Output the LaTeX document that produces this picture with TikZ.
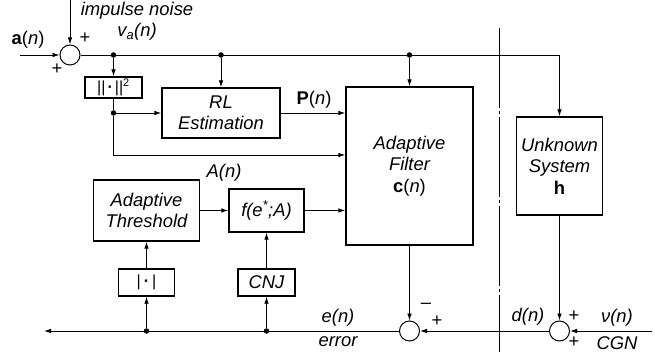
\documentclass[tikz,border=0pt]{standalone}
\usepackage{fontspec}
\setmainfont{Liberation Sans}
\usetikzlibrary{arrows.meta,positioning}

\begin{document}
\begin{tikzpicture}[
  x=1pt, y=-1pt,
  >={Latex[length=7pt,width=4.6pt]},
  font=\fontsize{18.4}{22}\selectfont,
  blk/.style={rectangle, draw, line width=1.4pt, inner sep=0pt, align=center, font=\fontsize{18.4}{21.5}\selectfont\itshape},
  sumnode/.style={circle, draw, line width=1pt, minimum size=20pt, inner sep=0pt},
  dot/.style={circle, fill, minimum size=5.5pt, inner sep=0pt},
  wire/.style={line width=0.9pt},
  lbl/.style={inner sep=0pt, font=\fontsize{18.4}{22}\selectfont\itshape},
]
  \useasboundingbox (0,0) rectangle (655,352);
  % summing junctions
  \node[sumnode] (sumIn)  at (70,55)    {};
  \node[sumnode] (sumErr) at (409.5,331) {};
  \node[sumnode] (sumD)   at (559.5,331) {};
  % blocks
  \node[blk, minimum width=57pt, minimum height=21pt, font=\fontsize{16}{19}\selectfont] (norm) at (113.5,87.5) {||\hspace{2pt}\textbf{·}\hspace{2pt}||\textsuperscript{\fontsize{11}{11}\selectfont 2}};
  \node[blk, minimum width=118pt, minimum height=50pt]  (rls)   at (221,113)   {RL\\Estimation};
  \node[blk, minimum width=127pt, minimum height=158pt] (filt)  at (409.5,166) {Adaptive\\Filter\\\upshape\textbf{c}(\textit{n})};
  \node[blk, minimum width=86pt, minimum height=98pt]   (plant) at (559.5,166) {Unknown\\System\\\upshape\textbf{h}};
  \node[blk, minimum width=106pt, minimum height=61pt]  (thr)   at (146.5,210.5) {Adaptive\\Threshold};
  \node[blk, minimum width=75pt, minimum height=43pt]   (fnl)   at (266.5,210.5) {f(e\textsuperscript{*};A)};
  \node[blk, minimum width=56pt, minimum height=27pt, font=\fontsize{16}{19}\selectfont] (absv) at (146.5,282.5) {|\hspace{3pt}\textbf{·}\hspace{3pt}|};
  \node[blk, minimum width=57pt, minimum height=27pt]   (cnj)   at (266.5,282.5) {CNJ};
  % branch points
  \node[dot] (dN) at (113.5,55)  {};
  \node[dot] (dR) at (221,55)    {};
  \node[dot] (dF) at (409.5,55)  {};
  \node[dot] (dE) at (113.5,113) {};
  \node[dot] (dA) at (146.5,331) {};
  \node[dot] (dC) at (266.5,331) {};
  % free ends and corners
  \coordinate (aIn)  at (20,55);
  \coordinate (nTop) at (70,0);
  \coordinate (cR)   at (113.5,155);
  \coordinate (vIn)  at (652,331);
  \coordinate (eOut) at (44,331);
  % input side
  \draw[wire,->] (aIn) -- (sumIn);
  \draw[wire,->] (nTop) -- (sumIn);
  \draw[wire] (sumIn) -- (dF);
  \draw[wire,->] (dF) -| (plant.north);
  \draw[wire,->] (dN) -- (norm);
  \draw[wire,->] (dR) -- (rls);
  \draw[wire,->] (dF) -- (filt);
  \draw[wire] (norm) -- (dE);
  \draw[wire,->] (dE) -- (rls);
  \draw[wire,->] (dE) -- (cR) -- (cR -| filt.west);
  \draw[wire,->] (rls) -- (rls -| filt.west);
  % threshold path
  \draw[wire,->] (thr) -- (fnl);
  \draw[wire,->] (fnl) -- (fnl -| filt.west);
  \draw[wire,->] (dA) -- (absv);
  \draw[wire,->] (absv) -- (thr);
  \draw[wire,->] (dC) -- (cnj);
  \draw[wire,->] (cnj) -- (fnl);
  % error path
  \draw[wire,->] (filt) -- (sumErr);
  \draw[wire,->] (plant) -- (sumD);
  \draw[wire,->] (vIn) -- (sumD);
  \draw[wire,->] (sumD) -- (sumErr);
  \draw[wire,->] (sumErr) -- (eOut);
  % divider
  \draw[line width=0.8pt, dash pattern=on 80pt off 3pt on 3pt off 3pt] (499,28) -- (499,352);
  % labels
  \node[lbl] (lNoise) at (137,11) {impulse noise};
  \node[lbl] (lVa)    at (137,32) {v\textsubscript{a}(n)};
  \node[lbl, font=\fontsize{18.4}{22}\selectfont] (lA) at (28,40) {\textbf{a}(\textit{n})};
  \node[lbl, font=\fontsize{18.4}{22}\selectfont] (lP) at (314,100) {\textbf{P}(\textit{n})};
  \node[lbl] (lAn)  at (224,173) {A(n)};
  \node[lbl] (lEn)  at (338,318) {e(n)};
  \node[lbl] (lErr) at (338,342) {error};
  \node[lbl] (lDn)  at (528,317) {d(n)};
  \node[lbl] (lNu)  at (617,318) {ν(n)};
  \node[lbl] (lCGN) at (617,343) {CGN};
  % signs
  \foreach \nm/\px/\py/\s in {p1/85/38/+, p2/57/69/+, p3/437/321/+, p4/574/316/+, p5/574/342/+}
    \node[inner sep=0pt] (\nm) at (\px,\py) {\s};
  \node[inner sep=0pt] (m1) at (426,306) {\textendash};
\end{tikzpicture}
\end{document}
